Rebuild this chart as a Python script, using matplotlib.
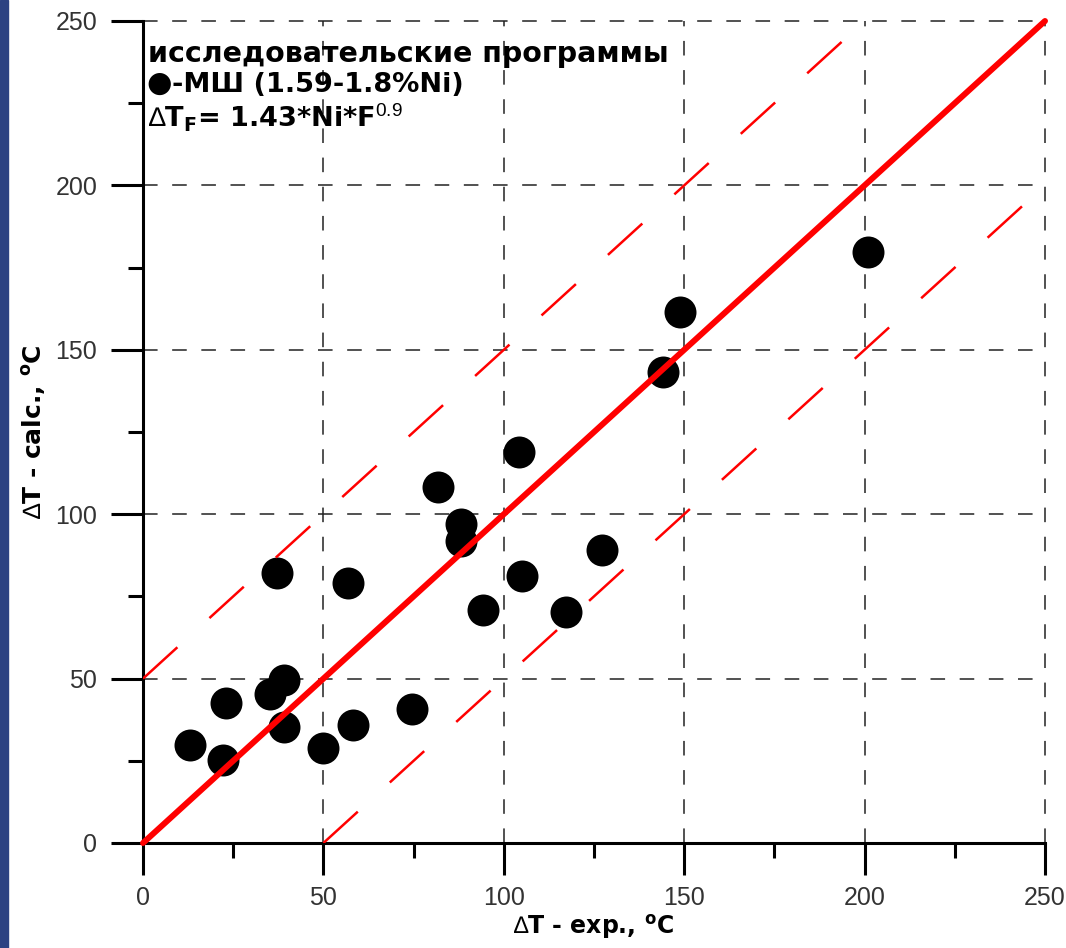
import numpy as np
import matplotlib
matplotlib.use("Agg")
import matplotlib.pyplot as plt
from matplotlib.patches import Rectangle

# =========================
# Data
# =========================
dt_exp = [13.0, 22.2, 23.0, 35.2, 39.1, 37.1, 39.1, 49.9, 56.8, 58.2, 74.6,
          81.8, 88.1, 88.1, 94.2, 104.2, 105.0, 117.2, 127.2, 144.1, 148.8, 200.9]
dt_calc = [29.8, 25.2, 42.6, 45.3, 49.6, 82.1, 35.3, 28.9, 79.1, 35.9, 40.8,
           108.3, 97.0, 91.8, 70.9, 118.9, 81.2, 70.3, 89.1, 143.2, 161.5, 179.7]

axis_max = 250
band = 50                      # +/- band around the 1:1 line
major_ticks = [0, 50, 100, 150, 200, 250]
minor_ticks = [25, 75, 125, 175, 225]

title_line = "исследовательские программы"
marker_label = "-МШ (1.59-1.8%Ni)"
formula = "$\\mathrm{\u2206}$T$_\\mathbf{F}$= 1.43*Ni*F$^{0.9}$"
xlabel = "$\\mathrm{\u2206}$T - exp., $^\\mathbf{o}$C"
ylabel = "$\\mathrm{\u2206}$T - calc., $^\\mathbf{o}$C"

# =========================
# Style
# =========================
plt.rcParams["font.family"] = ["Liberation Sans", "DejaVu Sans"]
plt.rcParams["mathtext.fontset"] = "custom"
plt.rcParams["mathtext.rm"] = "Liberation Sans"
plt.rcParams["mathtext.it"] = "Liberation Sans:italic"
plt.rcParams["mathtext.bf"] = "DejaVu Sans:bold"
plt.rcParams["mathtext.fallback"] = "stixsans"
plt.rcParams["lines.scale_dashes"] = False

bold_font = dict(family="DejaVu Sans", fontweight="bold")

fig = plt.figure(figsize=(10.66, 9.48), dpi=100)
ax = fig.add_axes([143 / 1066, 105 / 948, 902 / 1066, 822 / 948])

# slide background strip on the left edge
fig.add_artist(Rectangle((0, 0), 8 / 1066, 1, transform=fig.transFigure,
                         color="#2c4282", zorder=0))

ax.set_xlim(0, axis_max)
ax.set_ylim(0, axis_max)

ax.spines["top"].set_visible(False)
ax.spines["right"].set_visible(False)
for s in ["left", "bottom"]:
    ax.spines[s].set_linewidth(2.2)

ax.set_xticks(major_ticks)
ax.set_yticks(major_ticks)
ax.set_xticks(minor_ticks, minor=True)
ax.set_yticks(minor_ticks, minor=True)
ax.tick_params(which="major", direction="out", length=23, width=2.2,
               labelsize=18, labelcolor="#333333")
ax.tick_params(which="minor", direction="out", length=11, width=2.2)
ax.tick_params(axis="y", which="major", pad=10)
ax.tick_params(axis="x", which="major", pad=8)

ax.grid(True, which="major", color="#222222", linewidth=1.1,
        linestyle=(0, (10.5, 10.5)))
for gl in ax.get_xgridlines() + ax.get_ygridlines():
    gl.set_clip_on(False)

# =========================
# Points and guide lines
# =========================
ax.scatter(dt_exp, dt_calc, s=530, color="black", zorder=3, linewidths=0)

ax.plot([0, axis_max], [0, axis_max], color="#ff0000", lw=4.3,
        solid_capstyle="round", zorder=4, clip_on=False)
ax.plot([0, axis_max - band], [band, axis_max], color="#ff0000", lw=1.8,
        linestyle=(0, (33.5, 31.2)), zorder=4)
ax.plot([band, axis_max], [0, axis_max - band], color="#ff0000", lw=1.8,
        linestyle=(0, (33.5, 31.2)), zorder=4)

# =========================
# Labels
# =========================
ax.text(0.006, 0.950, title_line, transform=ax.transAxes,
        fontsize=20.5, va="baseline", zorder=5, **bold_font)
ax.text(0.004, 0.9136, "●", transform=ax.transAxes, family="DejaVu Sans",
        fontsize=21, va="baseline", zorder=5)
ax.text(0.0322, 0.9136, marker_label, transform=ax.transAxes,
        fontsize=19.5, va="baseline", zorder=5, **bold_font)
ax.text(0.006, 0.871, formula, transform=ax.transAxes,
        fontsize=19.5, va="baseline", zorder=5, **bold_font)

ax.set_xlabel(xlabel, fontsize=17, labelpad=2, **bold_font)
ax.set_ylabel(ylabel, fontsize=18, labelpad=5, **bold_font)

fig.savefig("out.png", dpi=100)
